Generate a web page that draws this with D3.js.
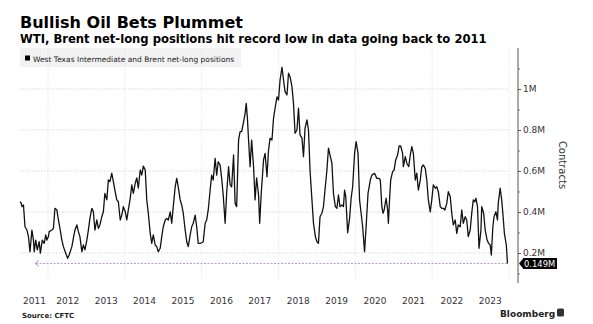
<!DOCTYPE html>
<html>
<head>
<meta charset="utf-8">
<script src="https://cdn.jsdelivr.net/npm/d3@7"></script>
<style>
  body { margin: 0; background: #fff; }
  svg { font-family: "DejaVu Sans", Verdana, sans-serif; }
</style>
</head>
<body>
<script>
// WTI + Brent net-long positions, thousands of contracts
var dates = [2011.27, 2011.30, 2011.32, 2011.36, 2011.40, 2011.45, 2011.49, 2011.53, 2011.58, 2011.62,
  2011.64, 2011.68, 2011.72, 2011.77, 2011.80, 2011.85, 2011.90, 2011.94, 2011.97, 2012.01,
  2012.03, 2012.10, 2012.14, 2012.18, 2012.23, 2012.27, 2012.31, 2012.36, 2012.40, 2012.46,
  2012.51, 2012.55, 2012.62, 2012.66, 2012.70, 2012.75, 2012.79, 2012.83, 2012.88, 2012.92,
  2012.96, 2013.01, 2013.05, 2013.09, 2013.14, 2013.18, 2013.22, 2013.27, 2013.31, 2013.35,
  2013.40, 2013.44, 2013.48, 2013.53, 2013.57, 2013.61, 2013.66, 2013.70, 2013.74, 2013.79,
  2013.83, 2013.88, 2013.92, 2013.96, 2014.01, 2014.05, 2014.09, 2014.14, 2014.18, 2014.22,
  2014.27, 2014.31, 2014.35, 2014.40, 2014.44, 2014.48, 2014.53, 2014.57, 2014.61, 2014.66,
  2014.70, 2014.74, 2014.79, 2014.83, 2014.87, 2014.92, 2014.96, 2015.00, 2015.05, 2015.09,
  2015.13, 2015.18, 2015.22, 2015.26, 2015.31, 2015.35, 2015.39, 2015.44, 2015.48, 2015.52,
  2015.57, 2015.61, 2015.65, 2015.70, 2015.74, 2015.78, 2015.83, 2015.87, 2015.91, 2015.96,
  2016.00, 2016.04, 2016.09, 2016.13, 2016.17, 2016.22, 2016.26, 2016.30, 2016.35, 2016.39,
  2016.43, 2016.48, 2016.52, 2016.56, 2016.61, 2016.65, 2016.70, 2016.74, 2016.78, 2016.83,
  2016.87, 2016.91, 2016.96, 2017.00, 2017.04, 2017.09, 2017.13, 2017.16, 2017.19, 2017.22,
  2017.26, 2017.30, 2017.35, 2017.39, 2017.43, 2017.48, 2017.51, 2017.55, 2017.61, 2017.65,
  2017.70, 2017.74, 2017.78, 2017.83, 2017.87, 2017.91, 2017.96, 2018.00, 2018.04, 2018.09,
  2018.13, 2018.17, 2018.22, 2018.26, 2018.30, 2018.35, 2018.39, 2018.43, 2018.48, 2018.52,
  2018.56, 2018.61, 2018.65, 2018.69, 2018.74, 2018.78, 2018.82, 2018.87, 2018.91, 2018.96,
  2019.00, 2019.04, 2019.08, 2019.13, 2019.17, 2019.21, 2019.26, 2019.30, 2019.35, 2019.39,
  2019.43, 2019.48, 2019.52, 2019.56, 2019.60, 2019.65, 2019.69, 2019.72, 2019.75, 2019.80,
  2019.85, 2019.89, 2019.93, 2019.98, 2020.02, 2020.07, 2020.11, 2020.15, 2020.19, 2020.24,
  2020.28, 2020.33, 2020.39, 2020.43, 2020.50, 2020.56, 2020.62, 2020.65, 2020.69, 2020.72,
  2020.75, 2020.80, 2020.84, 2020.86, 2020.89, 2020.92, 2020.97, 2021.01, 2021.05, 2021.10,
  2021.14, 2021.18, 2021.23, 2021.25, 2021.30, 2021.34, 2021.39, 2021.43, 2021.47, 2021.51,
  2021.56, 2021.60, 2021.64, 2021.69, 2021.73, 2021.77, 2021.82, 2021.86, 2021.90, 2021.95,
  2021.99, 2022.03, 2022.08, 2022.12, 2022.16, 2022.21, 2022.25, 2022.29, 2022.33, 2022.38,
  2022.42, 2022.47, 2022.51, 2022.55, 2022.60, 2022.64, 2022.68, 2022.73, 2022.77, 2022.81,
  2022.86, 2022.90, 2022.94, 2022.99, 2023.03, 2023.07, 2023.11, 2023.14, 2023.18, 2023.22,
  2023.27, 2023.29, 2023.34, 2023.38, 2023.43, 2023.47, 2023.51, 2023.54, 2023.58, 2023.61,
  2023.66, 2023.70, 2023.72, 2023.77, 2023.81, 2023.84, 2023.88, 2023.93, 2023.96];

var netLong = [450, 444, 426, 434, 328, 312, 280, 206, 312, 263,
  206, 263, 215, 255, 199, 263, 247, 288, 263, 280,
  304, 312, 320, 418, 410, 361, 320, 263, 231, 199,
  174, 190, 231, 272, 312, 337, 304, 280, 206, 239,
  215, 263, 312, 369, 418, 401, 312, 361, 320, 337,
  377, 401, 491, 459, 556, 548, 589, 548, 507, 459,
  450, 361, 385, 426, 401, 361, 410, 467, 532, 491,
  540, 566, 517, 605, 580, 624, 605, 459, 394, 296,
  247, 288, 239, 231, 206, 223, 280, 328, 361, 369,
  361, 401, 345, 426, 523, 564, 523, 459, 434, 394,
  312, 255, 231, 288, 328, 345, 385, 328, 247, 247,
  250, 255, 345, 361, 410, 507, 580, 556, 662, 580,
  645, 629, 564, 483, 345, 491, 621, 532, 523, 678,
  442, 426, 751, 792, 792, 840, 881, 930, 857, 751,
  621, 751, 621, 459, 566, 483, 345, 491, 654, 686,
  572, 702, 760, 751, 857, 906, 962, 946, 1044, 1106,
  1044, 987, 971, 1077, 1060, 1011, 930, 784, 800, 906,
  776, 760, 670, 808, 849, 800, 605, 459, 345, 280,
  255, 247, 377, 394, 426, 507, 605, 711, 670, 638,
  491, 426, 418, 483, 426, 434, 426, 507, 475, 299,
  369, 467, 523, 686, 743, 686, 459, 394, 328, 206,
  328, 491, 556, 580, 589, 564, 564, 556, 426, 394,
  410, 467, 410, 345, 459, 556, 597, 605, 654, 678,
  722, 722, 686, 621, 670, 638, 621, 678, 719, 686,
  556, 589, 507, 556, 621, 629, 613, 556, 459, 401,
  459, 532, 516, 523, 499, 426, 418, 418, 410, 442,
  499, 475, 394, 337, 361, 296, 337, 328, 410, 345,
  377, 361, 280, 312, 394, 459, 450, 467, 426, 223,
  312, 426, 394, 312, 263, 247, 239, 190, 328, 377,
  401, 361, 442, 516, 459, 394, 296, 239, 149];

var years = [2011, 2012, 2013, 2014, 2015, 2016, 2017, 2018, 2019, 2020, 2021, 2022, 2023];
var gridYears = [2012, 2014, 2016, 2018, 2020, 2022, 2024];
var yTicks = [200, 400, 600, 800, 1000];
var yMinor = [100, 300, 500, 700, 900, 1100];
var lastValue = 149;

var width = 593, height = 324;
var plot = {left: 20, right: 509, top: 48, bottom: 282};
var xStart = 2011.27, xEnd = 2024;

var svg = d3.select("body").append("svg")
  .attr("width", width)
  .attr("height", height);

var x = d3.scaleLinear().domain([xStart, xEnd]).range([plot.left, plot.right]);
var y = d3.scaleLinear().domain([58.5, 1200]).range([plot.bottom, plot.top]);

// titles
svg.append("text")
  .attr("x", 20).attr("y", 28)
  .style("font-size", "16px").style("font-weight", "bold").style("fill", "#000")
  .text("Bullish Oil Bets Plummet");
svg.append("text")
  .attr("x", 20).attr("y", 43)
  .style("font-size", "11.6px").style("font-weight", "bold").style("fill", "#000")
  .text("WTI, Brent net-long positions hit record low in data going back to 2011");

// legend box
svg.append("rect")
  .attr("x", 20).attr("y", 48).attr("width", 221).attr("height", 19)
  .attr("fill", "#f2f2f2");

// grid
var grid = svg.append("g").attr("class", "grid");
grid.selectAll(".hgrid")
  .data(yTicks)
  .enter().append("line")
  .attr("x1", plot.left).attr("x2", plot.right)
  .attr("y1", function(d) { return y(d); })
  .attr("y2", function(d) { return y(d); })
  .attr("stroke", "#d0d0d0").attr("stroke-width", 0.8)
  .attr("stroke-dasharray", "1.5,1.5");
grid.selectAll(".vgrid")
  .data(gridYears)
  .enter().append("line")
  .attr("x1", function(d) { return x(d); })
  .attr("x2", function(d) { return x(d); })
  .attr("y1", plot.top).attr("y2", plot.bottom)
  .attr("stroke", "#e0e0e0").attr("stroke-width", 0.8)
  .attr("stroke-dasharray", "1.5,1.5");

// legend content
svg.append("rect")
  .attr("x", 25).attr("y", 55.5).attr("width", 5).attr("height", 5)
  .attr("fill", "#000");
svg.append("text")
  .attr("x", 33).attr("y", 61.5)
  .style("font-size", "7.5px").style("fill", "#222")
  .text("West Texas Intermediate and Brent net-long positions");

// last value reference line
svg.append("line")
  .attr("x1", 36).attr("x2", x(dates[dates.length - 1]))
  .attr("y1", y(lastValue)).attr("y2", y(lastValue))
  .attr("stroke", "#b98ff0").attr("stroke-width", 1)
  .attr("stroke-dasharray", "2,1.5");
svg.append("path")
  .attr("d", "M" + 39 + "," + (y(lastValue) - 3) + " L" + 35 + "," + y(lastValue) + " L" + 39 + "," + (y(lastValue) + 3))
  .attr("fill", "none").attr("stroke", "#b98ff0").attr("stroke-width", 1);

// series line
var line = d3.line()
  .x(function(d, i) { return x(dates[i]); })
  .y(function(d) { return y(d); });
svg.append("path")
  .datum(netLong)
  .attr("d", line)
  .attr("fill", "none")
  .attr("stroke", "#111")
  .attr("stroke-width", 1.3)
  .attr("stroke-linejoin", "round");

// right axis
var axisX = 518;
var yAxis = d3.axisRight(y)
  .tickValues(yTicks)
  .tickSize(3)
  .tickPadding(2)
  .tickFormat(function(d) { return (d / 1000) + "M"; });
var gy = svg.append("g")
  .attr("transform", "translate(" + axisX + ",0)")
  .call(yAxis);
gy.select(".domain").remove();
gy.selectAll("line").attr("stroke", "#555");
gy.selectAll("text")
  .style("font-size", "9px").style("fill", "#333")
  .style("font-family", "DejaVu Sans, sans-serif");

var gyMinor = svg.append("g")
  .attr("transform", "translate(" + axisX + ",0)")
  .call(d3.axisRight(y).tickValues(yMinor).tickSize(2).tickFormat(""));
gyMinor.select(".domain").remove();
gyMinor.selectAll("line").attr("stroke", "#777");

svg.append("line")
  .attr("x1", axisX).attr("x2", axisX)
  .attr("y1", plot.top).attr("y2", plot.bottom + 1)
  .attr("stroke", "#555").attr("stroke-width", 1);

svg.append("text")
  .attr("transform", "translate(559,165) rotate(90)")
  .attr("text-anchor", "middle")
  .style("font-size", "10px").style("fill", "#333")
  .text("Contracts");

// last value tag
var ly = y(lastValue);
svg.append("path")
  .attr("d", "M519," + ly + " L523.5," + (ly - 5.5) + " L557," + (ly - 5.5) + " L557," + (ly + 5.5) + " L523.5," + (ly + 5.5) + " Z")
  .attr("fill", "#000");
svg.append("text")
  .attr("x", 524).attr("y", ly + 3.2)
  .style("font-size", "8.4px").style("fill", "#fff")
  .text((lastValue / 1000) + "M");

// x axis labels centred on the visible part of each year
var xAxis = d3.axisBottom(x)
  .tickValues(years.map(function(yr) {
    return (Math.max(yr, xStart) + Math.min(yr + 1, xEnd)) / 2;
  }))
  .tickSize(0)
  .tickPadding(0)
  .tickFormat(function(d, i) { return years[i]; });
var gx = svg.append("g")
  .attr("transform", "translate(0,298)")
  .call(xAxis);
gx.select(".domain").remove();
gx.selectAll("text")
  .style("font-size", "9px").style("fill", "#333")
  .style("font-family", "DejaVu Sans, sans-serif");

// footer
svg.append("text")
  .attr("x", 22).attr("y", 318)
  .style("font-size", "7px").style("font-weight", "bold").style("fill", "#222")
  .text("Source: CFTC");
svg.append("text")
  .attr("x", 500).attr("y", 317)
  .style("font-size", "9px").style("font-weight", "bold").style("fill", "#222")
  .text("Bloomberg");
svg.append("rect")
  .attr("x", 557).attr("y", 308.5).attr("width", 7).attr("height", 8).attr("rx", 1.5)
  .attr("fill", "#333");
</script>
</body>
</html>
